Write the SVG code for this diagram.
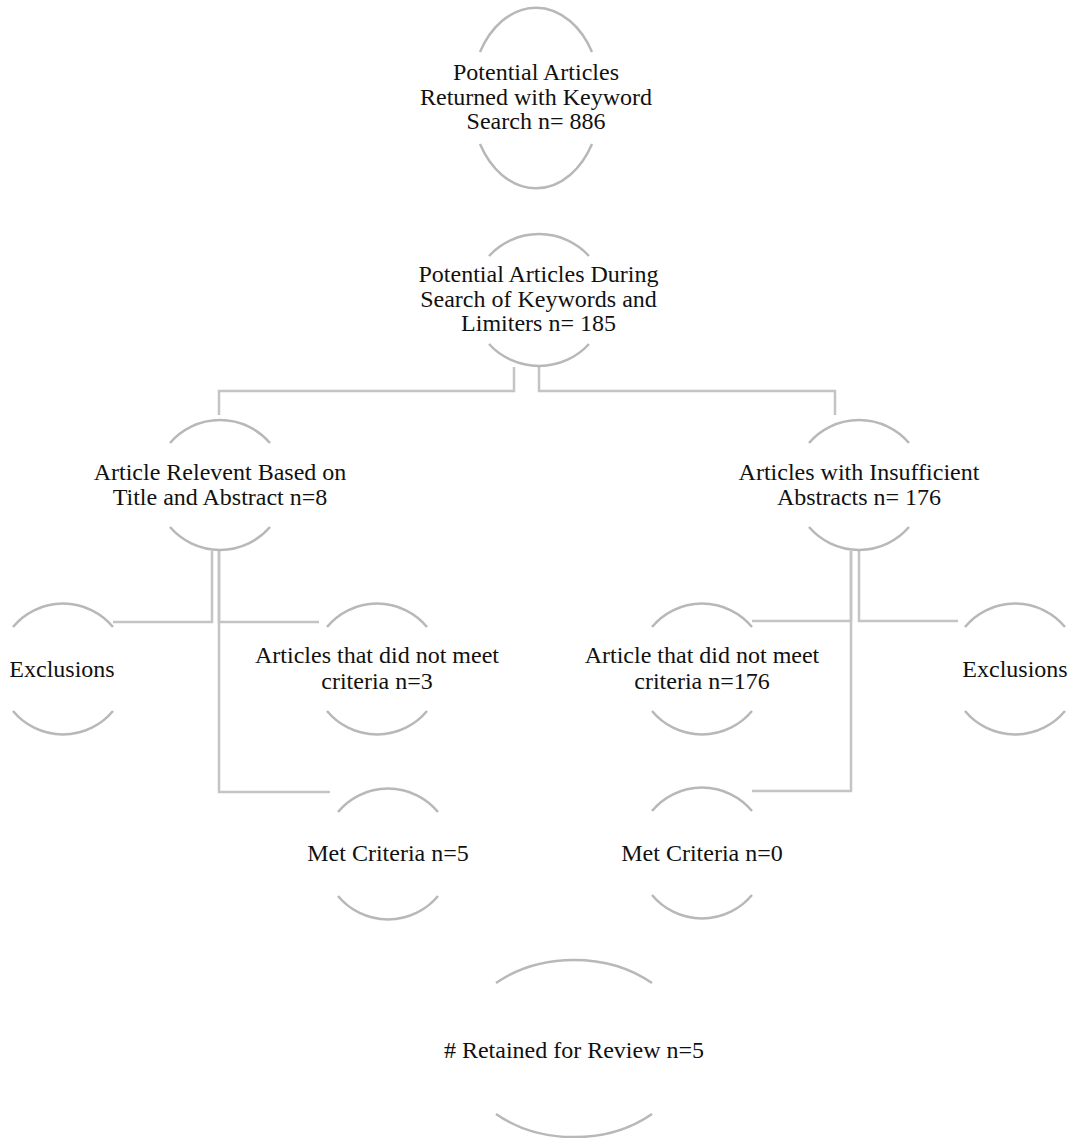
<svg xmlns="http://www.w3.org/2000/svg" width="1074" height="1138" viewBox="0 0 1074 1138">
<style>
.arc{fill:none;stroke:#b8b8b8;stroke-width:2.5}
.con{fill:none;stroke:#c4c4c4;stroke-width:2.5}
text{font-family:"Liberation Serif","Times New Roman",serif;font-size:24px;fill:#111;text-anchor:middle}
</style>
<rect width="1074" height="1138" fill="#fff"/>
<g id="connectors">
<path class="con" d="M514,367 V391 H219 V415"/>
<path class="con" d="M539,367 V391 H835 V415"/>
<path class="con" d="M212,551 V622 H113"/>
<path class="con" d="M219,551 V622 H319"/>
<path class="con" d="M219,551 V792 H330"/>
<path class="con" d="M851,551 V621 H752"/>
<path class="con" d="M859,551 V621 H958"/>
<path class="con" d="M851,551 V791 H752"/>
</g>
<g id="n1">
<path class="arc" d="M480,52 A65,90 0 0 1 592,52"/>
<path class="arc" d="M480,144 A65,90 0 0 0 592,144"/>
<text x="536" y="80">Potential Articles</text>
<text x="536" y="104.5">Returned with Keyword</text>
<text x="536" y="129">Search n= 886</text>
</g>
<g id="n2">
<path class="arc" d="M489,256 A67,65.5 0 0 1 589,256"/>
<path class="arc" d="M489,344 A67,65.5 0 0 0 589,344"/>
<text x="538.5" y="282">Potential Articles During</text>
<text x="538.5" y="306.5">Search of Keywords and</text>
<text x="538.5" y="331">Limiters n= 185</text>
</g>
<g id="n3">
<path class="arc" d="M170,443 A66,66 0 0 1 270,443"/>
<path class="arc" d="M170,527 A66,66 0 0 0 270,527"/>
<text x="220" y="480">Article Relevent Based on</text>
<text x="220" y="505">Title and Abstract n=8</text>
</g>
<g id="n4">
<path class="arc" d="M809,443 A66,66 0 0 1 909,443"/>
<path class="arc" d="M809,527 A66,66 0 0 0 909,527"/>
<text x="859" y="480">Articles with Insufficient</text>
<text x="859" y="505">Abstracts n= 176</text>
</g>
<g id="n5">
<path class="arc" d="M13,627 A65,65 0 0 1 113,627"/>
<path class="arc" d="M13,711 A65,65 0 0 0 113,711"/>
<text x="62" y="677">Exclusions</text>
</g>
<g id="n6">
<path class="arc" d="M327,627 A65,65 0 0 1 427,627"/>
<path class="arc" d="M327,711 A65,65 0 0 0 427,711"/>
<text x="377" y="663">Articles that did not meet</text>
<text x="377" y="688.5">criteria n=3</text>
</g>
<g id="n7">
<path class="arc" d="M338,812 A65,65 0 0 1 438,812"/>
<path class="arc" d="M338,896 A65,65 0 0 0 438,896"/>
<text x="388" y="861">Met Criteria n=5</text>
</g>
<g id="n8">
<path class="arc" d="M652,627 A65,65 0 0 1 752,627"/>
<path class="arc" d="M652,711 A65,65 0 0 0 752,711"/>
<text x="702" y="663">Article that did not meet</text>
<text x="702" y="688.5">criteria n=176</text>
</g>
<g id="n9">
<path class="arc" d="M965,627 A65,65 0 0 1 1065,627"/>
<path class="arc" d="M965,711 A65,65 0 0 0 1065,711"/>
<text x="1015" y="677">Exclusions</text>
</g>
<g id="n10">
<path class="arc" d="M652,811 A65,65 0 0 1 752,811"/>
<path class="arc" d="M652,895 A65,65 0 0 0 752,895"/>
<text x="702" y="861">Met Criteria n=0</text>
</g>
<g id="n11">
<path class="arc" d="M496,983 A116,89 0 0 1 652,983"/>
<path class="arc" d="M496,1114 A116,89 0 0 0 652,1114"/>
<text x="574" y="1058">  # Retained for Review n=5</text>
</g>
</svg>
